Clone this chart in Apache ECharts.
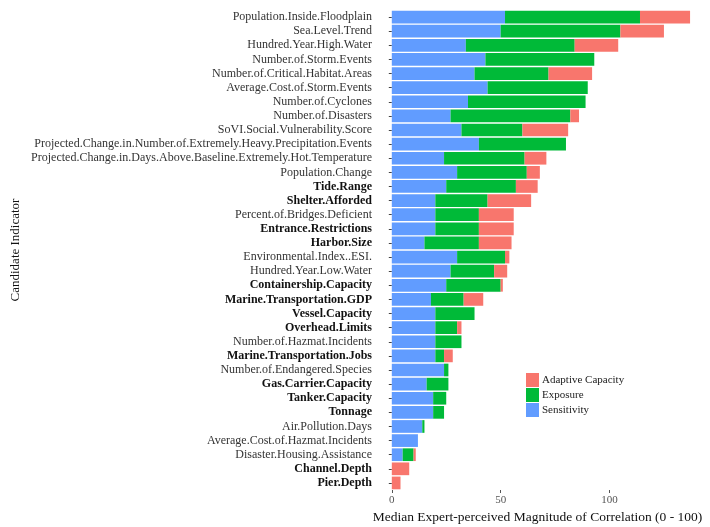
<!DOCTYPE html>
<html>
<head>
<meta charset="utf-8">
<script src="https://cdn.jsdelivr.net/npm/echarts@6/dist/echarts.min.js"></script>
<style>
  html, body { margin: 0; padding: 0; background: #fff; }
  #chart { width: 710px; height: 527px; }
</style>
</head>
<body>
<div id="chart"></div>
<script>
// indicators, top to bottom
const categories = [
  'Population.Inside.Floodplain', 'Sea.Level.Trend', 'Hundred.Year.High.Water',
  'Number.of.Storm.Events', 'Number.of.Critical.Habitat.Areas', 'Average.Cost.of.Storm.Events',
  'Number.of.Cyclones', 'Number.of.Disasters', 'SoVI.Social.Vulnerability.Score',
  'Projected.Change.in.Number.of.Extremely.Heavy.Precipitation.Events',
  'Projected.Change.in.Days.Above.Baseline.Extremely.Hot.Temperature',
  'Population.Change', 'Tide.Range', 'Shelter.Afforded', 'Percent.of.Bridges.Deficient',
  'Entrance.Restrictions', 'Harbor.Size', 'Environmental.Index..ESI.', 'Hundred.Year.Low.Water',
  'Containership.Capacity', 'Marine.Transportation.GDP', 'Vessel.Capacity', 'Overhead.Limits',
  'Number.of.Hazmat.Incidents', 'Marine.Transportation.Jobs', 'Number.of.Endangered.Species',
  'Gas.Carrier.Capacity', 'Tanker.Capacity', 'Tonnage', 'Air.Pollution.Days',
  'Average.Cost.of.Hazmat.Incidents', 'Disaster.Housing.Assistance', 'Channel.Depth', 'Pier.Depth'
];

// labels shown in bold
const boldLabels = [
  'Tide.Range', 'Shelter.Afforded', 'Entrance.Restrictions', 'Harbor.Size',
  'Containership.Capacity', 'Marine.Transportation.GDP', 'Vessel.Capacity', 'Overhead.Limits',
  'Marine.Transportation.Jobs', 'Gas.Carrier.Capacity', 'Tanker.Capacity', 'Tonnage',
  'Channel.Depth', 'Pier.Depth'
];

const sensitivity = [52, 50, 34, 43, 38, 44, 35, 27, 32, 40, 24, 30, 25, 20, 20, 20, 15, 30, 27, 25, 18, 20, 20, 20, 20, 24, 16, 19, 19, 14, 12, 5, 0, 0];
const exposure    = [62, 55, 50, 50, 34, 46, 54, 55, 28, 40, 37, 32, 32, 24, 20, 20, 25, 22, 20, 25, 15, 18, 10, 12, 4, 2, 10, 6, 5, 1, 0, 5, 0, 0];
const adaptive    = [23, 20, 20, 0, 20, 0, 0, 4, 21, 0, 10, 6, 10, 20, 16, 16, 15, 2, 6, 1, 9, 0, 2, 0, 4, 0, 0, 0, 0, 0, 0, 1, 8, 4];

const xTicks = [0, 50, 100];

const serif = '"Liberation Serif", "DejaVu Serif", serif';

const chart = echarts.init(document.getElementById('chart'));

const option = {
  animation: false,
  backgroundColor: '#fff',
  grid: { left: 377, right: 6, top: 10, bottom: 37, outerBoundsMode: 'none' },
  legend: {
    orient: 'vertical',
    left: 526,
    top: 373,
    padding: 0,
    itemWidth: 13,
    itemHeight: 14,
    itemGap: 1,
    icon: 'rect',
    data: ['Adaptive Capacity', 'Exposure', 'Sensitivity'],
    textStyle: { fontFamily: serif, fontSize: 11, color: '#222', padding: [0, 0, 0, -2] }
  },
  xAxis: {
    type: 'value',
    min: -6.8,
    max: 143.4,
    name: 'Median Expert-perceived Magnitude of Correlation (0 - 100)',
    nameLocation: 'middle',
    nameGap: 17,
    nameTextStyle: { fontFamily: serif, fontSize: 13.5, color: '#111', padding: [0, 6, 0, 0] },
    axisLine: { show: false },
    axisTick: { show: true, length: 3, customValues: xTicks, lineStyle: { color: '#555' } },
    axisLabel: { customValues: xTicks, fontFamily: serif, fontSize: 11, color: '#555', margin: 5 },
    splitLine: { show: false }
  },
  yAxis: {
    type: 'category',
    inverse: true,
    data: categories,
    name: 'Candidate Indicator',
    nameLocation: 'middle',
    nameRotate: 90,
    nameGap: 355,
    nameTextStyle: { fontFamily: serif, fontSize: 13, color: '#111' },
    axisLine: { show: false },
    axisTick: { show: true, alignWithLabel: true, length: 3, lineStyle: { color: '#444' } },
    axisLabel: {
      interval: 0,
      margin: 5,
      fontFamily: serif,
      fontSize: 12,
      color: '#333',
      formatter: function (value) {
        return boldLabels.indexOf(value) >= 0 ? '{b|' + value + '}' : value;
      },
      rich: {
        b: { fontFamily: serif, fontSize: 12, fontWeight: 'bold', color: '#111' }
      }
    }
  },
  series: [
    { name: 'Sensitivity', type: 'bar', stack: 'all', data: sensitivity, barCategoryGap: '10%', itemStyle: { color: '#619CFF' } },
    { name: 'Exposure', type: 'bar', stack: 'all', data: exposure, barCategoryGap: '10%', itemStyle: { color: '#00BA38' } },
    { name: 'Adaptive Capacity', type: 'bar', stack: 'all', data: adaptive, barCategoryGap: '10%', itemStyle: { color: '#F8766D' } }
  ]
};

chart.setOption(option);
</script>
</body>
</html>
